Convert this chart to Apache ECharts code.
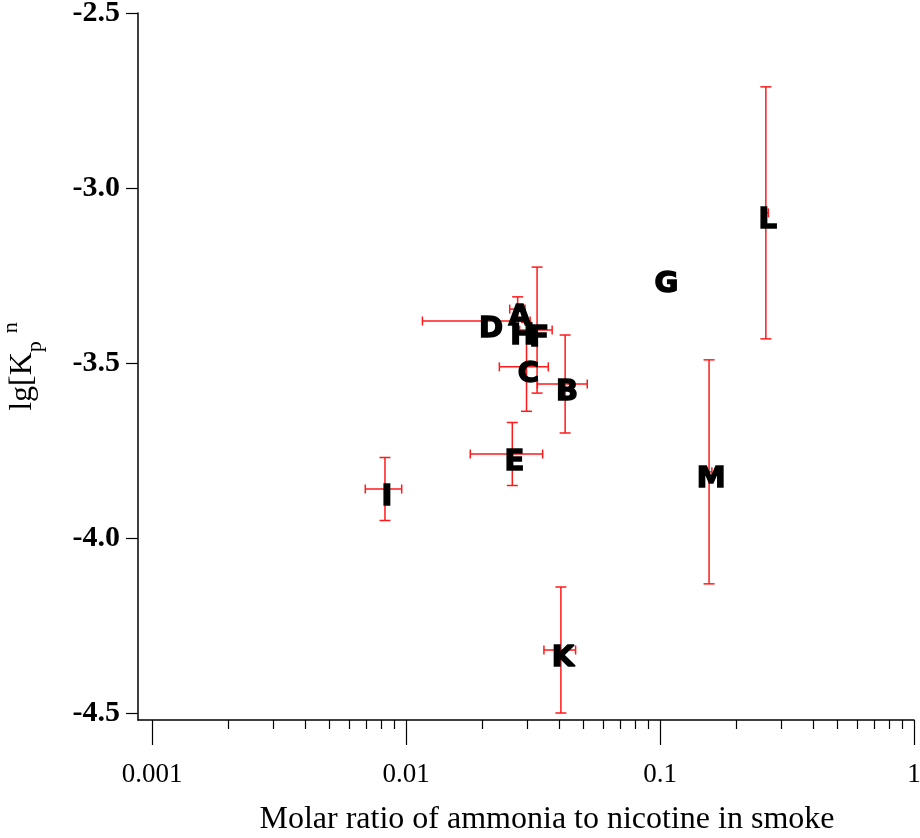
<!DOCTYPE html>
<html>
<head>
<meta charset="utf-8">
<script src="https://cdn.jsdelivr.net/npm/echarts@6/dist/echarts.min.js"></script>
<style>
  html, body { margin: 0; padding: 0; background: #fff; }
  #main { width: 920px; height: 838px; }
</style>
</head>
<body>
<div id="main"></div>
<script>
const names = ['A', 'B', 'C', 'D', 'E', 'F', 'G', 'H', 'I', 'K', 'L', 'M']
const ratio = [0.0275, 0.0423, 0.0298, 0.0212, 0.0262, 0.0328, 0.104, 0.0282, 0.00826, 0.0407, 0.261, 0.156]
const lgKp = [-3.346, -3.56, -3.511, -3.38, -3.76, -3.406, -3.254, -3.40, -3.86, -4.32, -3.071, -3.811]
const ratioErr = [0.0019, 0.0094, 0.0065, 0.0096, 0.0083, 0.0048, 0, 0, 0.00135, 0.0058, 0.006, 0.004]
const lgKpErr = [0.035, 0.14, 0.127, 0, 0.09, 0.18, 0, 0, 0.09, 0.18, 0.36, 0.32]

const xMajor = [0.001, 0.01, 0.1, 1]
const xMinor = [0.002, 0.003, 0.004, 0.005, 0.006, 0.007, 0.008, 0.009,
  0.02, 0.03, 0.04, 0.05, 0.06, 0.07, 0.08, 0.09,
  0.2, 0.3, 0.4, 0.5, 0.6, 0.7, 0.8, 0.9]
const yTicks = [-4.5, -4.0, -3.5, -3.0, -2.5]

const points = names.map((n, i) => ({ name: n, value: [ratio[i], lgKp[i]] }))
const errData = names.map((n, i) => [ratio[i], lgKp[i], ratioErr[i], lgKpErr[i]])

const myChart = echarts.init(document.getElementById('main'))

const serif = 'Liberation Serif'
const errColor = '#ff1a1a'

function renderErr(params, api) {
  const x = api.value(0), y = api.value(1), xe = api.value(2), ye = api.value(3)
  const kids = []
  const st = { stroke: errColor, lineWidth: 1.5 }
  if (ye > 0) {
    const top = api.coord([x, y + ye]), bot = api.coord([x, y - ye])
    kids.push({ type: 'line', shape: { x1: top[0], y1: top[1], x2: bot[0], y2: bot[1] }, style: st })
    kids.push({ type: 'line', shape: { x1: top[0] - 5.5, y1: top[1], x2: top[0] + 5.5, y2: top[1] }, style: st })
    kids.push({ type: 'line', shape: { x1: bot[0] - 5.5, y1: bot[1], x2: bot[0] + 5.5, y2: bot[1] }, style: st })
  }
  if (xe > 0) {
    const l = api.coord([x - xe, y]), r = api.coord([x + xe, y])
    kids.push({ type: 'line', shape: { x1: l[0], y1: l[1], x2: r[0], y2: r[1] }, style: st })
    kids.push({ type: 'line', shape: { x1: l[0], y1: l[1] - 4.5, x2: l[0], y2: l[1] + 4.5 }, style: st })
    kids.push({ type: 'line', shape: { x1: r[0], y1: r[1] - 4.5, x2: r[0], y2: r[1] + 4.5 }, style: st })
  }
  return { type: 'group', children: kids }
}

myChart.setOption({
  animation: false,
  backgroundColor: '#fff',
  grid: { left: 138, right: 6, top: 13, bottom: 118, outerBoundsMode: 'none', containLabel: false },
  xAxis: [
    {
      type: 'log',
      logBase: 10,
      min: 0.00088,
      max: 1,
      position: 'bottom',
      name: 'Molar ratio of ammonia to nicotine in smoke',
      nameLocation: 'middle',
      nameGap: 84,
      nameTextStyle: { fontFamily: serif, fontSize: 32, color: '#000', padding: [0, 0, 0, 42] },
      axisLine: { lineStyle: { color: '#000', width: 1.5 } },
      axisTick: { customValues: xMajor, length: 25, lineStyle: { color: '#000', width: 1.2 } },
      axisLabel: {
        customValues: xMajor,
        margin: 41,
        fontFamily: serif,
        fontSize: 27,
        color: '#000',
        hideOverlap: false,
        formatter: v => String(+v.toPrecision(3))
      },
      splitLine: { show: false }
    },
    {
      type: 'log',
      logBase: 10,
      min: 0.00088,
      max: 1,
      position: 'bottom',
      axisLine: { show: false },
      axisTick: { customValues: xMinor, length: 9, lineStyle: { color: '#000', width: 1.2 } },
      axisLabel: { show: false },
      splitLine: { show: false }
    }
  ],
  yAxis: {
    type: 'value',
    min: -4.52,
    max: -2.5,
    name: 'lg[K{p|p}{n|n}',
    nameLocation: 'middle',
    nameRotate: 90,
    nameGap: 92,
    nameTextStyle: {
      fontFamily: serif,
      fontSize: 32,
      color: '#000',
      lineHeight: 46,
      rich: {
        p: { fontFamily: serif, fontSize: 22, color: '#000', verticalAlign: 'bottom', lineHeight: 46, padding: [0, 8, 0, 0] },
        n: { fontFamily: serif, fontSize: 22, color: '#000', verticalAlign: 'top', lineHeight: 46 }
      }
    },
    axisLine: { lineStyle: { color: '#000', width: 1.5 } },
    axisTick: { customValues: yTicks, length: 12, lineStyle: { color: '#000', width: 1.2 } },
    axisLabel: {
      customValues: yTicks,
      margin: 18,
      fontFamily: serif,
      fontWeight: 'bold',
      fontSize: 30,
      color: '#000',
      formatter: v => v.toFixed(1)
    },
    splitLine: { show: false }
  },
  series: [
    {
      type: 'custom',
      renderItem: renderErr,
      data: errData,
      z: 2,
      clip: false
    },
    {
      type: 'scatter',
      data: points,
      symbolSize: 1,
      itemStyle: { color: 'rgba(0,0,0,0)' },
      z: 5,
      label: {
        show: true,
        position: 'inside',
        offset: [2, 8],
        formatter: '{b}',
        fontFamily: 'DejaVu Sans',
        fontWeight: 'bold',
        fontSize: 29,
        color: '#000',
        opacity: 1,
        textBorderColor: '#000',
        textBorderWidth: 1.5
      }
    }
  ]
})
</script>
</body>
</html>
